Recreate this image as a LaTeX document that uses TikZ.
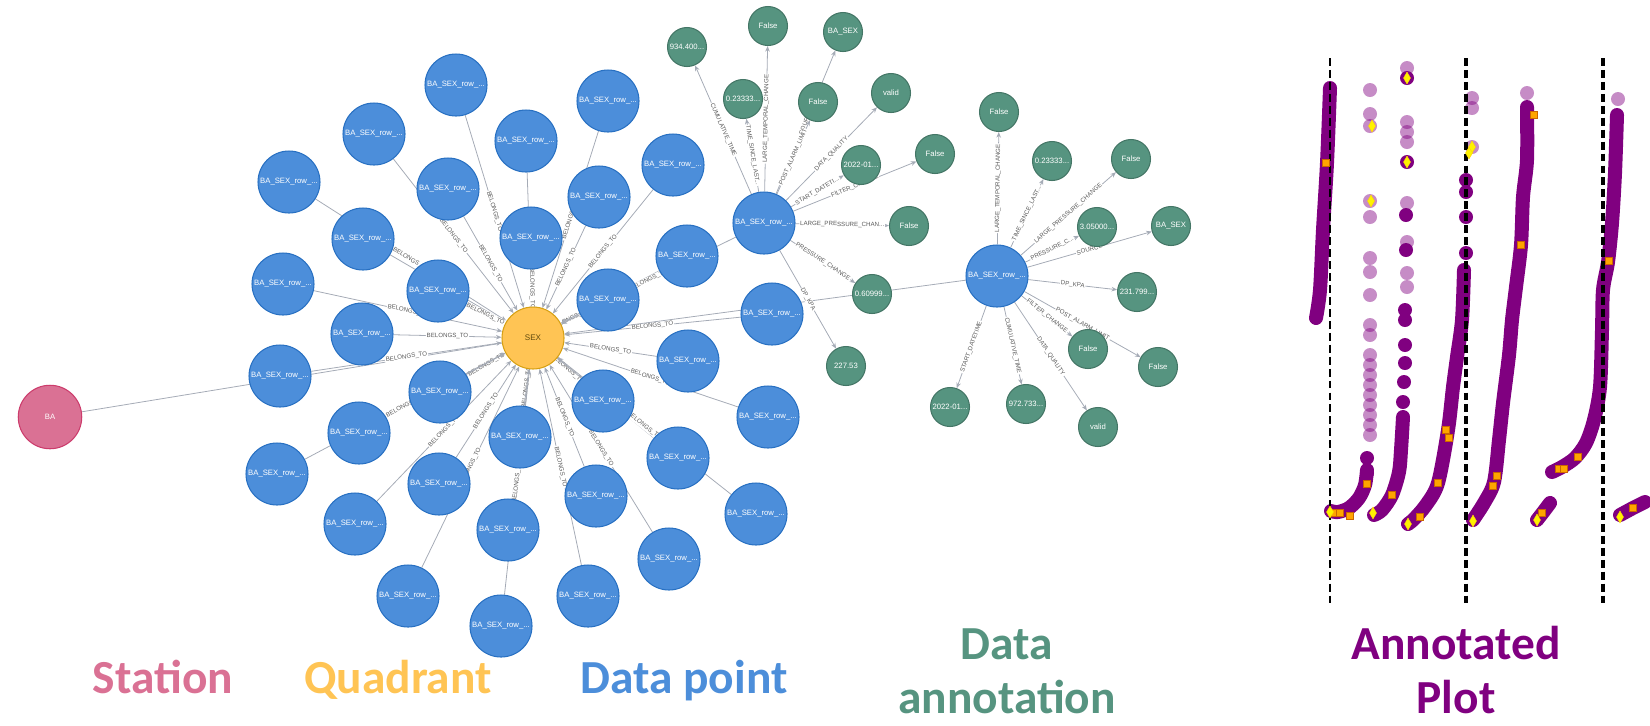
\documentclass[tikz,border=0pt]{standalone}
\usepackage{fontspec}
\setmainfont{Liberation Sans}
\newfontfamily\capfont{Carlito}
\usepackage{tikz}
\usetikzlibrary{arrows.meta,backgrounds,positioning}
\definecolor{stationpink}{HTML}{DA7194}
\definecolor{stationedge}{HTML}{CC3C6C}
\definecolor{quadyellow}{HTML}{FFC454}
\definecolor{quadedge}{HTML}{D7A013}
\definecolor{quadtext}{HTML}{604A0E}
\definecolor{dpblue}{HTML}{4C8EDA}
\definecolor{dpedge}{HTML}{2870C2}
\definecolor{annotgreen}{HTML}{569480}
\definecolor{annotedge}{HTML}{447666}
\definecolor{edgegray}{HTML}{A5ABB6}
\definecolor{lblgray}{HTML}{5A5A5A}
\definecolor{plotpurple}{HTML}{800080}
\definecolor{sqorange}{HTML}{FFA500}
\newcommand{\tdots}{...}

\begin{document}
\begin{tikzpicture}[x=0.02cm,y=-0.02cm,
station/.style={circle,fill=stationpink,draw=stationedge,line width=0.6pt,minimum size=1.27cm,inner sep=0pt,text=white,font=\fontsize{4.4}{5}\selectfont},
quadrant/.style={circle,fill=quadyellow,draw=quadedge,line width=0.6pt,minimum size=1.24cm,inner sep=0pt,text=quadtext,font=\fontsize{4.6}{5}\selectfont},
dpoint/.style={circle,fill=dpblue,draw=dpedge,line width=0.6pt,minimum size=1.24cm,inner sep=0pt,text=white,font=\fontsize{4.4}{5}\selectfont},
annot/.style={circle,fill=annotgreen,draw=annotedge,line width=0.6pt,minimum size=0.78cm,inner sep=0pt,text=white,font=\fontsize{4.4}{5}\selectfont},
rel/.style={draw=edgegray,line width=0.45pt,-{Stealth[length=3.2pt,width=2.6pt]}},
lbl/.style={sloped,midway,fill=white,inner sep=0.5pt,text=lblgray,font=\fontsize{3.5}{4}\selectfont},
captext/.style={font=\capfont\bfseries\fontsize{27}{30.5}\selectfont,align=center,anchor=base},
streak/.style={draw=plotpurple,line width=0.28cm,line cap=round,line join=round},
pdot/.style={fill=plotpurple,fill opacity=0.45},
osq/.style={fill=sqorange,draw=orange!80!black,line width=0.2pt},
ydia/.style={fill=yellow,draw=yellow!70!orange,line width=0.2pt},
vline/.style={draw=black,dash pattern=on 4.5pt off 2.3pt}]
\useasboundingbox (0,0) rectangle (1650,725);

    % Station and quadrant
    \node[station] (ba) at (50,417) {BA};
    \node[quadrant] (sex) at (533,338) {SEX};

    % Data points
    \foreach \n/\x/\y in {1/456/85, 2/374/134, 3/526/141, 4/608/101, 5/289/182,
        6/448/189, 7/599/197, 8/363/239, 9/531/238, 10/283/284, 11/438/291,
        12/608/300, 13/362/334, 14/280/376, 15/440/392, 16/603/401, 17/359/433,
        18/520/437, 19/277/474, 20/439/484, 21/596/496, 22/355/524, 23/508/530,
        24/408/596, 25/588/596, 26/501/626, 27/673/165, 28/687/256, 29/772/314,
        30/688/361, 31/768/417, 32/678/458, 33/756/514, 34/669/559}
      \node[dpoint] (r\n) at (\x,\y) {BA\_SEX\_row\_\tdots};
    \node[dpoint] (h1) at (764,223) {BA\_SEX\_row\_\tdots};
    \node[dpoint] (h2) at (997,276) {BA\_SEX\_row\_\tdots};

    % Data annotations
    \foreach \n/\x/\y/\t in {a/687/47/934.400\tdots, b/768/26/False, c/843/32/BA\_SEX,
        d/743/99/0.23333\tdots, e/818/102/False, f/891/93/valid, g/861/165/2022-01\tdots,
        h/935/154/False, i/909/226/False, j/872/294/0.60999\tdots, k/846/366/227.53}
      \node[annot] (p\n) at (\x,\y) {\t};
    \foreach \n/\x/\y/\t in {a/999/112/False, b/1052/161/0.23333\tdots, c/1131/159/False,
        d/1097/227/3.05000\tdots, e/1171/226/BA\_SEX, f/1137/292/231.799\tdots,
        g/1088/349/False, h/1158/367/False, i/1098/427/valid, j/1026/404/972.733\tdots,
        k/950/407/2022-01\tdots}
      \node[annot] (q\n) at (\x,\y) {\t};

    % Relationships
    \begin{scope}[on background layer]
      \draw[rel,-] (ba) -- (sex);
      \foreach \n in {1,...,34}
        \draw[rel] (r\n) -- node[lbl] {BELONGS\_TO} (sex);
      \draw[rel] (h1) -- node[lbl] {BELONGS\_TO} (sex);
      \draw[rel] (h2) -- node[lbl] {BELONGS\_TO} (sex);
      \foreach \n/\l in {a/CUMULATIVE\_TIME, b/LARGE\_TEMPORAL\_CHANGE, c/SOURCE,
          d/TIME\_SINCE\_LAST\tdots, e/POST\_ALARM\_LIMIT, f/DATA\_QUALITY,
          g/START\_DATETI\tdots, h/FILTER\_CHANGE, i/LARGE\_PRESSURE\_CHAN\tdots,
          j/PRESSURE\_CHANGE, k/DP\_KPA}
        \draw[rel] (h1) -- node[lbl] {\l} (p\n);
      \foreach \n/\l in {a/LARGE\_TEMPORAL\_CHANGE, b/TIME\_SINCE\_LAST\tdots,
          c/LARGE\_PRESSURE\_CHANGE, d/PRESSURE\_C\tdots, e/SOURCE, f/DP\_KPA,
          g/FILTER\_CHANGE, h/POST\_ALARM\_LIMIT, i/DATA\_QUALITY,
          j/CUMULATIVE\_TIME, k/START\_DATETIME}
        \draw[rel] (h2) -- node[lbl] {\l} (q\n);
    \end{scope}

    % Annotated plot
    \draw[streak] plot[smooth] coordinates {(1330,88) (1327,163) (1323,230) (1320,290) (1316,318)};
    \foreach \y in {90,114,126,201,217,258,272,295,325,335,355,365,375,385,395,405,415,425,435}
      \fill[pdot] (1370,\y) circle[radius=0.14cm];
    \foreach \y in {458,473}
      \fill[plotpurple] (1367,\y) circle[radius=0.14cm];
    \draw[streak] plot[smooth] coordinates {(1367,470) (1365,485) (1359,498) (1349,508) (1338,512) (1331,511)};
    \foreach \y in {68,122,132,142,203,242,273,287}
      \fill[pdot] (1407,\y) circle[radius=0.14cm];
    \foreach \y/\x in {78/1407,162/1407,215/1406,250/1406,310/1405,320/1405,345/1405,363/1405,382/1404,402/1403}
      \fill[plotpurple] (\x,\y) circle[radius=0.14cm];
    \draw[streak] plot[smooth] coordinates {(1403,417) (1401,450) (1399,472) (1392,495) (1382,510) (1374,515)};
    \foreach \y in {98,108,147}
      \fill[pdot] (1472,\y) circle[radius=0.14cm];
    \foreach \y in {180,192,217,253}
      \fill[plotpurple] (1466,\y) circle[radius=0.14cm];
    \draw[streak] plot[smooth] coordinates {(1464,270) (1462,320) (1457,357) (1453,387) (1448,430) (1438,483) (1426,505) (1414,519) (1408,524)};
    \fill[pdot] (1527,93) circle[radius=0.14cm];
    \draw[streak] plot[smooth] coordinates {(1527,107) (1527,160) (1523,197) (1521,245) (1516,287) (1512,320) (1509,355) (1503,403) (1499,440) (1494,482) (1484,503) (1473,520)};
    \draw[streak] plot[smooth] coordinates {(1537,520) (1544,511) (1550,503)};
    \fill[pdot] (1618,99) circle[radius=0.14cm];
    \draw[streak] plot[smooth] coordinates {(1617,115) (1615,173) (1612,223) (1608,262) (1603,290) (1602,330) (1600,387) (1594,420) (1586,443) (1575,458) (1562,467) (1552,472)};
    \draw[streak] plot[smooth] coordinates {(1620,515) (1633,508) (1645,502)};

    \draw[vline,line width=1.1pt] (1330,58) -- (1330,603);
    \draw[vline,line width=2.3pt] (1466,58) -- (1466,603);
    \draw[vline,line width=1.9pt] (1603,58) -- (1603,603);

    \foreach \x/\y in {1326/163,1367/484,1335/513,1340/513,1350/516,1392/495,1420/517,
        1438/483,1446/430,1449/438,1534/115,1521/245,1497/476,1493/486,1542/513,
        1578/457,1559/469,1564/469,1609/261,1633/508}
      \filldraw[osq] (\x-3.5,\y-3.5) rectangle (\x+3.5,\y+3.5);
    \foreach \x/\y in {1330/512,1373/513,1408/524,1473/521,1537/520,1620/517,
        1407/78,1372/126,1407/162,1371/201,1472/147,1469/153}
      \filldraw[ydia] (\x,\y-6) -- (\x+3.5,\y) -- (\x,\y+6) -- (\x-3.5,\y) -- cycle;

    % Legend
    \node[captext,text=stationpink] (lstation) at (163,693) {Station};
    \node[captext,text=quadyellow] (lquadrant) at (398,693) {Quadrant};
    \node[captext,text=dpblue] (lpoint) at (684,693) {Data point};
    \node[captext,text=annotgreen] (lannot) at (1007,713) {Data\\annotation};
    \node[captext,text=plotpurple] (lplot) at (1456,713) {Annotated\\Plot};

\end{tikzpicture}
\end{document}
